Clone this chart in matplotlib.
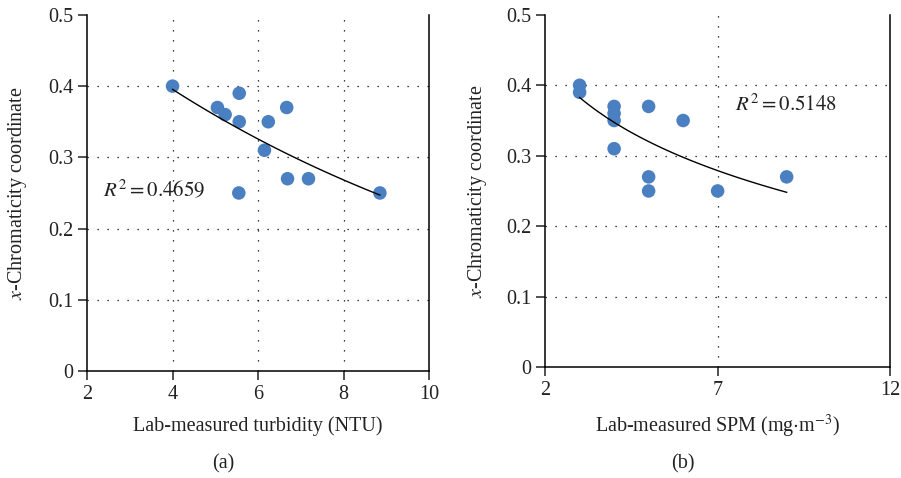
import numpy as np
import matplotlib.pyplot as plt
from matplotlib.ticker import FuncFormatter

plt.rcParams['font.family'] = ['Liberation Serif', 'DejaVu Serif']
plt.rcParams['mathtext.fontset'] = 'stix'

# (a) turbidity vs x-chromaticity
turb = [4.0, 5.05, 5.23, 5.56, 5.56, 6.24, 6.67, 6.15, 6.69, 7.18, 5.55, 8.85]
chrom_a = [0.40, 0.37, 0.36, 0.39, 0.35, 0.35, 0.37, 0.31, 0.27, 0.27, 0.25, 0.25]
r2_a = 0.4659

# (b) SPM vs x-chromaticity
spm = [3, 3, 4, 4, 4, 4, 5, 5, 5, 6, 7, 9]
chrom_b = [0.40, 0.39, 0.37, 0.36, 0.35, 0.31, 0.37, 0.27, 0.25, 0.35, 0.25, 0.27]
r2_b = 0.5148

blue = '#4a7fc1'
ink = '#222222'
fs = 14.5
dots = (0, (1, 7))


def style(ax, xticks, xgrid, ylab_x):
    ax.spines['top'].set_visible(False)
    for s in ['left', 'bottom', 'right']:
        ax.spines[s].set_linewidth(1.1)
    ax.set_ylim(0, 0.5)
    ax.set_yticks([0, 0.1, 0.2, 0.3, 0.4, 0.5])
    ax.yaxis.set_major_formatter(FuncFormatter(lambda v, p: f'{v:g}'))
    ax.set_xlim(xticks[0], xticks[-1])
    ax.set_xticks(xticks)
    ax.tick_params(direction='out', length=6.5, width=1.1, labelsize=fs, colors=ink)
    for y in [0.1, 0.2, 0.3, 0.4]:
        ax.axhline(y, color='k', lw=0.9, ls=dots, zorder=0)
    for x in xgrid:
        ax.axvline(x, color='k', lw=0.9, ls=dots, zorder=0)
    ax.set_ylabel(r'$\it{x}$-Chromaticity coordinate', fontsize=fs, color=ink)
    ax.yaxis.set_label_coords(ylab_x, 0.5)


fig = plt.figure(figsize=(9.01, 4.78), dpi=100)
ax1 = fig.add_axes([0.0966, 0.2238, 0.3796, 0.745])
ax2 = fig.add_axes([0.605, 0.232, 0.383, 0.737])

# panel a: exponential trend
style(ax1, [2, 4, 6, 8, 10], [4, 6, 8], -0.17)
ax1.scatter(turb, chrom_a, s=95, color=blue, edgecolors='none', zorder=3)
b, ln_a = np.polyfit(turb, np.log(chrom_a), 1)
xs = np.linspace(min(turb), max(turb), 100)
ax1.plot(xs, np.exp(ln_a + b * xs), color='k', lw=1.0, zorder=4)
ax1.text(2.37, 0.254, r'$R^2 = %.4f$' % r2_a, fontsize=fs + 0.5, va='center', color=ink)
ax1.set_xlabel('Lab-measured turbidity (NTU)', fontsize=fs, color=ink, labelpad=9)
fig.text(0.2475, 0.02, '(a)', fontsize=fs, ha='center', color=ink)

# panel b: logarithmic trend
style(ax2, [2, 7, 12], [7], -0.162)
ax2.scatter(spm, chrom_b, s=95, color=blue, edgecolors='none', zorder=3)
k, c = np.polyfit(np.log(spm), chrom_b, 1)
xs = np.linspace(min(spm), max(spm), 100)
ax2.plot(xs, c + k * np.log(xs), color='k', lw=1.0, zorder=4)
ax2.text(7.5, 0.372, r'$R^2 = %.4f$' % r2_b, fontsize=fs + 0.5, va='center', color=ink)
ax2.set_xlabel(r'Lab-measured SPM (mg$\cdot$m$^{-3}$)', fontsize=fs, color=ink, labelpad=9)
fig.text(0.758, 0.02, '(b)', fontsize=fs, ha='center', color=ink)

fig.savefig('out.png', dpi=100)
